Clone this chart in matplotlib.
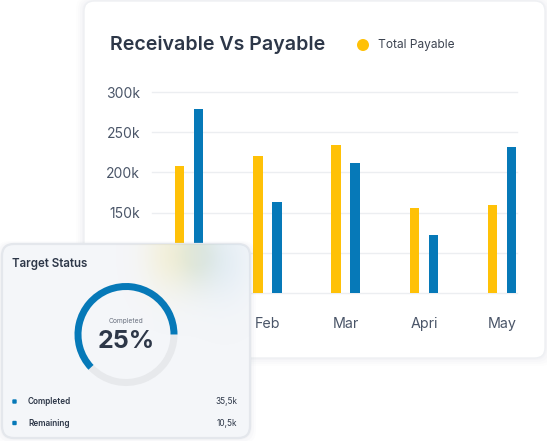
import numpy as np
import matplotlib
matplotlib.use("Agg")
import matplotlib.pyplot as plt
from matplotlib.patches import FancyBboxPatch, Wedge, Circle

plt.rcParams['font.family'] = ['Inter', 'DejaVu Sans']

# ---- data ----
months = ['Jan', 'Feb', 'Mar', 'Apri', 'May']
total_payable = [208000, 221000, 234500, 155700, 160000]
total_receivable = [278500, 163000, 211700, 121700, 232000]
yticks = [50000, 100000, 150000, 200000, 250000, 300000]
ytick_labels = ['50k', '100k', '150k', '200k', '250k', '300k']
target_title = 'Target Status'
target_pct = 25
target_rows = ['Completed', 'Remaining']
target_values = ['35,5k', '10,5k']
ring_fraction = 0.62  # visible share of the ring drawn in blue

YELLOW = '#FFC107'
BLUE = '#0679B8'
W, H = 547, 441
fig = plt.figure(figsize=(W / 100, H / 100), dpi=100)
fig.patch.set_facecolor('white')

# background layer (pixel coords)
bg = fig.add_axes([0, 0, 1, 1], zorder=0)
bg.set_xlim(0, W); bg.set_ylim(H, 0); bg.axis('off')

# chart card with soft shadow
for i, a in enumerate([0.015, 0.02, 0.025, 0.03]):
    d = 8 - 2 * i
    bg.add_patch(FancyBboxPatch((84 - d, 1 - d / 2), 461 + 2 * d, 357 + 1.5 * d,
                                boxstyle="round,pad=0,rounding_size=12",
                                fc='#8a94a6', ec='none', alpha=a))
bg.add_patch(FancyBboxPatch((84, 1), 461, 357, boxstyle="round,pad=0,rounding_size=10",
                            fc='white', ec='#eef0f3', lw=1))
bg.text(110, 45, 'Receivable Vs Payable', fontsize=14.1, fontweight='semibold',
        color='#2d3748', va='center', ha='left')
bg.add_patch(Circle((363, 45), 6, fc=YELLOW, ec='none'))
bg.text(378, 45, 'Total Payable', fontsize=8.6, color='#3d4451', va='center', ha='left')

# bar chart axes
x0, x1, ytop, ybot = 152, 517, 92, 293
cw, c0 = 78.3, 189
ax = fig.add_axes([x0 / W, 1 - ybot / H, (x1 - x0) / W, (ybot - ytop) / H], zorder=1)
ax.set_facecolor('none')
x = np.arange(len(months))
bw = 9.5 / cw
off = 9.5 / cw
ax.bar(x - off, total_payable, width=bw, color=YELLOW, zorder=3)
ax.bar(x + off, total_receivable, width=bw, color=BLUE, zorder=3)
ax.set_xlim((x0 - c0) / cw, (x1 - c0) / cw)
ax.set_ylim(50000, 300000)
ax.set_yticks(yticks)
ax.set_yticklabels(ytick_labels)
ax.set_xticks(x)
ax.set_xticklabels(months)
for s in ax.spines.values():
    s.set_visible(False)
ax.tick_params(axis='y', length=0, pad=8.5, labelsize=10, labelcolor='#4a5568')
ax.tick_params(axis='x', length=0, pad=17, labelsize=10.3, labelcolor='#4a5568')
ax.grid(axis='y', color='#eceef1', lw=1, zorder=0)
for gl in ax.get_ygridlines():
    gl.set_clip_on(False)

# overlay: target status card
ov = fig.add_axes([0, 0, 1, 1], zorder=2)
ov.set_xlim(0, W); ov.set_ylim(H, 0); ov.axis('off')
ov.patch.set_alpha(0)
for i, a in enumerate([0.02, 0.03, 0.04]):
    d = 6 - 2 * i
    ov.add_patch(FancyBboxPatch((2 - d, 244 - d / 2), 248 + 2 * d, 194 + 1.5 * d,
                                boxstyle="round,pad=0,rounding_size=14",
                                fc='#8a94a6', ec='none', alpha=a))
card = FancyBboxPatch((2, 244), 248, 194, boxstyle="round,pad=0,rounding_size=12",
                      fc='#f4f6f9', ec='#e4e7ec', lw=1.6)
ov.add_patch(card)

# soft colour glow near the top of the card
gx, gy = np.meshgrid(np.linspace(2, 250, 250), np.linspace(244, 438, 200))
img = np.zeros(gx.shape + (4,))
acc_a = np.zeros(gx.shape)
acc_rgb = np.zeros(gx.shape + (3,))
for cx, cy, sx, sy, rgb, amp in [(170, 255, 26, 38, (0.96, 0.90, 0.62), 0.30),
                                  (198, 255, 22, 34, (0.70, 0.80, 0.70), 0.30),
                                  (226, 262, 26, 40, (0.78, 0.87, 0.94), 0.28)]:
    g = amp * np.exp(-(((gx - cx) / sx) ** 2 + ((gy - cy) / sy) ** 2))
    acc_rgb += g[..., None] * np.array(rgb)
    acc_a += g
img[..., :3] = acc_rgb / np.maximum(acc_a, 1e-6)[..., None]
img[..., 3] = np.clip(acc_a, 0, 0.45)
im = ov.imshow(img, extent=(2, 250, 438, 244), origin='upper', zorder=1.5, interpolation='bilinear')
im.set_clip_path(card)

ov.text(12, 264, target_title, fontsize=8.3, fontweight='semibold', color='#2d3748',
        va='center', ha='left', zorder=3)

# donut ring
cx, cy, r, wdt = 126, 334.5, 51.5, 7
blue_span = 360 * ring_fraction
ov.add_patch(Wedge((cx, cy), r, 0, 360 - blue_span, width=wdt, fc='#e7e9ec', ec='none', zorder=3))
ov.add_patch(Wedge((cx, cy), r, 360 - blue_span, 360, width=wdt, fc=BLUE, ec='none', zorder=3))
ov.text(cx, 321, 'Completed', fontsize=4.8, color='#6b7280', ha='center', va='center', zorder=4)
ov.text(cx, 341.5, f'{target_pct}%', fontsize=18, fontweight='bold', color='#2d3748',
        ha='center', va='center', zorder=4)

for i, (lab, val) in enumerate(zip(target_rows, target_values)):
    yy = 401.5 + 21.5 * i
    ov.add_patch(FancyBboxPatch((12.3, yy - 2.2), 4.4, 4.4, boxstyle="round,pad=0,rounding_size=1",
                                fc=BLUE, ec='none', zorder=4))
    ov.text(28, yy, lab, fontsize=5.9, fontweight='semibold', color='#2d3748',
            va='center', ha='left', zorder=4)
    ov.text(237.5, yy, val, fontsize=5.9, color='#2d3748', va='center', ha='right', zorder=4)

fig.savefig('out.png', dpi=100, facecolor='white')
